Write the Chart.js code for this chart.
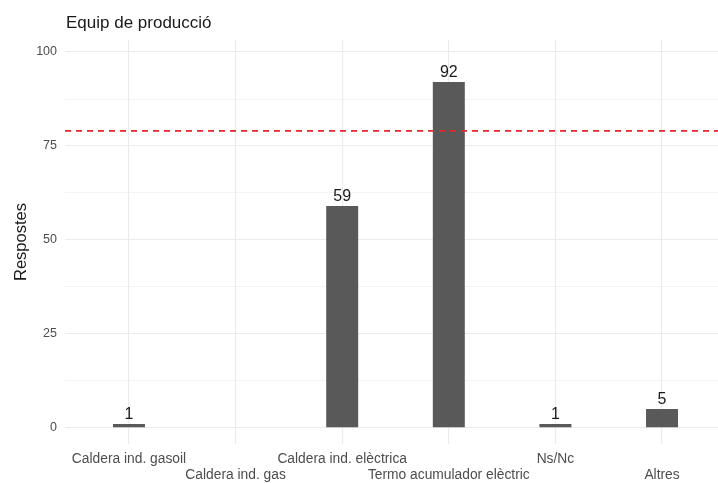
<!DOCTYPE html>
<html>
<head>
<meta charset="utf-8">
<script src="https://cdn.jsdelivr.net/npm/chart.js@4"></script>
<style>
  html, body { margin: 0; padding: 0; background: #fff; overflow: hidden; }
  #wrap { width: 726px; height: 483px; }
</style>
</head>
<body>
<div id="wrap"><canvas id="chart" width="726" height="483"></canvas></div>
<script>
const categories = [
  "Caldera ind. gasoil",
  "Caldera ind. gas",
  "Caldera ind. elèctrica",
  "Termo acumulador elèctric",
  "Ns/Nc",
  "Altres",
];
const counts = [1, null, 59, 92, 1, 5];
const yTicks = [0, 12.5, 25, 37.5, 50, 62.5, 75, 87.5, 100];
const referenceLine = 79;
const chartTitle = "Equip de producció";

const FONT = '"Liberation Sans", Arial, sans-serif';

// title above the panel, aligned with the panel's left edge
const titlePlugin = {
  id: "panelTitle",
  afterDraw(chart) {
    const ctx = chart.ctx;
    ctx.save();
    ctx.font = `17px ${FONT}`;
    ctx.fillStyle = "#1a1a1a";
    ctx.textAlign = "left";
    ctx.textBaseline = "alphabetic";
    ctx.fillText(chartTitle, chart.chartArea.left + 1, 28);
    ctx.restore();
  },
};

// count labels on top of each bar
const barLabels = {
  id: "barLabels",
  afterDatasetsDraw(chart) {
    const ctx = chart.ctx;
    const meta = chart.getDatasetMeta(0);
    ctx.save();
    ctx.font = `16px ${FONT}`;
    ctx.fillStyle = "#1a1a1a";
    ctx.textAlign = "center";
    ctx.textBaseline = "alphabetic";
    meta.data.forEach((bar, i) => {
      if (counts[i] == null) return;
      ctx.fillText(String(counts[i]), bar.x, bar.y - 5);
    });
    ctx.restore();
  },
};

// dashed horizontal reference line, drawn over the bars
const refLine = {
  id: "refLine",
  afterDatasetsDraw(chart) {
    const { ctx, chartArea, scales } = chart;
    const y = scales.y.getPixelForValue(referenceLine);
    ctx.save();
    ctx.strokeStyle = "#e8262b";
    ctx.lineWidth = 1.7;
    ctx.setLineDash([6, 5]);
    ctx.beginPath();
    ctx.moveTo(chartArea.left, y);
    ctx.lineTo(chartArea.right, y);
    ctx.stroke();
    ctx.restore();
  },
};

new Chart(document.getElementById("chart"), {
  type: "bar",
  plugins: [titlePlugin, barLabels, refLine],
  data: {
    datasets: [
      {
        data: categories.map((c, i) => ({ x: i, y: counts[i] })),
        backgroundColor: "#595959",
        barPercentage: 0.3,
        categoryPercentage: 1,
      },
    ],
  },
  options: {
    responsive: false,
    animation: false,
    devicePixelRatio: 1,
    layout: { padding: { top: 40, left: 0, right: 0, bottom: 0 } },
    plugins: {
      legend: { display: false },
      tooltip: { enabled: false },
      title: { display: false },
    },
    scales: {
      x: {
        type: "linear",
        min: -0.6,
        max: 5.6,
        offset: false,
        afterBuildTicks: (axis) => {
          axis.ticks = categories.map((c, i) => ({ value: i }));
        },
        afterFit: (axis) => {
          axis.height = 39;
        },
        border: { display: false },
        grid: { color: "#ebebeb", lineWidth: 1.1, drawTicks: false, offset: false },
        ticks: {
          autoSkip: false,
          maxRotation: 0,
          padding: 7,
          color: "#4d4d4d",
          font: { family: FONT, size: 13.8, lineHeight: 1.17 },
          callback: (v) => (v % 2 === 1 ? ["", categories[v]] : categories[v]),
        },
      },
      y: {
        min: -4.3,
        max: 103.2,
        afterBuildTicks: (axis) => {
          axis.ticks = yTicks.map((v) => ({ value: v }));
        },
        afterFit: (axis) => {
          axis.width = 65;
        },
        border: { display: false },
        grid: {
          color: "#ebebeb",
          lineWidth: (ctx) => (ctx.tick && ctx.tick.value % 25 === 0 ? 1.1 : 0.6),
          drawTicks: false,
        },
        ticks: {
          padding: 8,
          color: "#4d4d4d",
          font: { family: FONT, size: 12.5 },
          callback: (v) => (v % 25 === 0 ? v : ""),
        },
        title: {
          display: true,
          text: "Respostes",
          color: "#1a1a1a",
          font: { family: FONT, size: 16.5 },
          padding: { top: 12, bottom: 0 },
        },
      },
    },
  },
});
</script>
</body>
</html>
